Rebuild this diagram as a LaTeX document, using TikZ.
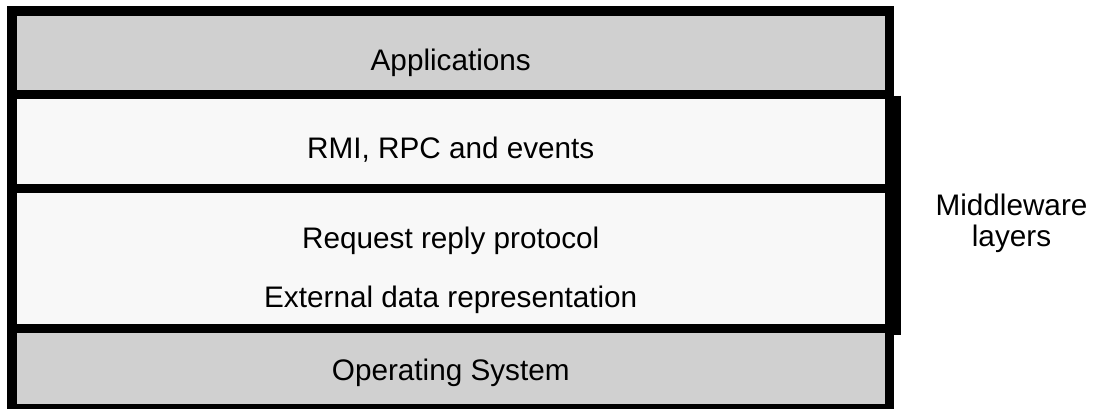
\documentclass[tikz,border=0pt]{standalone}
\usepackage{fontspec}
\setmainfont{Liberation Sans}
\definecolor{layergray}{HTML}{D0D0D0}
\definecolor{layerlight}{HTML}{F8F8F8}
\begin{document}
\begin{tikzpicture}[x=1pt,y=-1pt,
  layer/.style={draw=black, line width=9.5pt, rectangle, inner sep=0pt, outer sep=0pt,
                minimum width=877.5pt},
  label/.style={anchor=base, inner sep=0pt, font=\fontsize{29.7}{31}\selectfont},
  bracket/.style={line width=10pt, line cap=butt}]
\useasboundingbox (0,0) rectangle (1095,409);
% middleware bracket, behind the stack
\coordinate (mwtop) at (896,95.7);
\coordinate (mwbot) at (896,335);
\draw[bracket] (mwtop) -- (mwbot);
% layer stack
\node[layer, fill=layergray,  minimum height=83.3pt]  (apps) at (450.75,52.65) {};
\node[layer, fill=layerlight, minimum height=94.4pt]  (rmi)  at (450.75,141.5) {};
\node[layer, fill=layerlight, minimum height=139.8pt] (rr)   at (450.75,258.6) {};
\node[layer, fill=layergray,  minimum height=80.25pt] (os)   at (450.75,368.6) {};
% layer captions
\node[label] (tapps) at (450.75,71) {Applications};
\node[label] (trmi)  at (450.75,159) {RMI, RPC and events};
\node[label] (treq)  at (450.75,248) {Request reply protocol};
\node[label] (text)  at (450.75,307.5) {External data representation};
\node[label] (tos)   at (450.75,380.5) {Operating System};
\node[label] (tmw1)  at (1011.5,215) {Middleware};
\node[label] (tmw2)  at (1011.5,246) {layers};
\end{tikzpicture}
\end{document}
